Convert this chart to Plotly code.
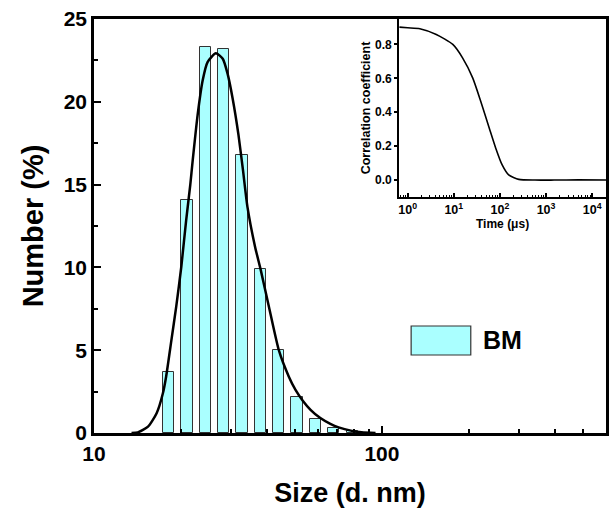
import numpy as np
import plotly.graph_objects as go

# ---------------- data ----------------
bin_sizes = [18.17, 21.04, 24.36, 28.21, 32.67, 37.84, 43.82, 50.75, 58.77, 68.06, 78.82]
number_pct = [3.7, 14.1, 23.3, 23.2, 16.8, 9.9, 5.0, 2.2, 0.85, 0.3, 0.14]

fit_sizes = [13.5, 14.2, 15.4, 16.5, 17.35, 17.8, 18.55, 19.3, 20.1, 20.9, 21.6, 22.0, 22.9,
             23.85, 24.8, 26.5, 28.0, 29.1, 30.3, 31.75, 32.9, 34.1, 36.25, 37.9, 40.5, 43.9,
             47.5, 50.1, 53.1, 56.5, 61.1, 66.2, 70.7, 78.6, 85.0, 95.0]
fit_values = [0.0, 0.04, 0.38, 1.19, 2.4, 3.4, 5.55, 7.63, 10.04, 12.86, 15.0, 16.4, 19.2,
              21.3, 22.4, 22.93, 22.6, 21.7, 20.2, 18.0, 15.9, 13.67, 11.25, 9.88, 7.63, 4.97,
              3.4, 2.6, 1.95, 1.4, 0.9, 0.55, 0.34, 0.13, 0.04, 0.0]

corr_time = [0.66, 1.0, 1.84, 4.18, 9.53, 15.5, 25.7, 38.5, 58.9, 81.3, 112, 155, 257, 575,
             1500, 5000, 20000]
corr_coef = [0.902, 0.898, 0.893, 0.859, 0.80, 0.721, 0.603, 0.464, 0.306, 0.188, 0.089,
             0.03, 0.004, 0.0, 0.0, 0.001, 0.0]

x_major = [10, 100]
x_minor = [20, 30, 40, 50, 60, 70, 80, 90, 200, 300, 400, 500]
inset_x_ticks = [1, 10, 100, 1000, 10000]
inset_x_text = ["10<sup>0</sup>", "10<sup>1</sup>", "10<sup>2</sup>", "10<sup>3</sup>", "10<sup>4</sup>"]

# ---------------- figure ----------------
FONT = "Liberation Sans, Arial, sans-serif"
s = np.array(bin_sizes)
k = 10 ** 0.0196
offsets = s / k - s
widths = s * k - s / k

fig = go.Figure()
fig.add_trace(go.Bar(
    x=bin_sizes, y=number_pct, offset=offsets, width=widths,
    marker=dict(color="#aaffff", line=dict(color="#333333", width=1)),
    name="BM", showlegend=False, xaxis="x", yaxis="y"))
fig.add_trace(go.Scatter(
    x=fit_sizes, y=fit_values, mode="lines",
    line=dict(color="black", width=2.5, shape="spline", smoothing=0.6),
    showlegend=False, xaxis="x", yaxis="y"))
fig.add_trace(go.Scatter(
    x=corr_time, y=corr_coef, mode="lines",
    line=dict(color="black", width=1.6, shape="spline", smoothing=0.6),
    showlegend=False, xaxis="x2", yaxis="y2"))

fig.update_layout(
    width=613, height=523,
    margin=dict(l=94, r=4, t=19, b=90),
    paper_bgcolor="white", plot_bgcolor="white",
    font=dict(family=FONT, color="black"),
    bargap=0,
    xaxis=dict(
        type="log", range=[1, np.log10(600)], domain=[0, 1],
        tickmode="array", tickvals=x_major, ticktext=["10", "100"],
        ticks="inside", ticklen=7, tickwidth=2, tickcolor="black",
        showline=True, linecolor="black", linewidth=2.5, mirror=True,
        showgrid=False, zeroline=False,
        tickfont=dict(size=21, family=FONT, weight="bold"),
        minor=dict(tickmode="array", tickvals=x_minor, ticks="inside", ticklen=4,
                   tickwidth=1.5, tickcolor="black", showgrid=False),
        title=dict(text="Size (d. nm)", font=dict(size=27, family=FONT, weight="bold"), standoff=20),
    ),
    yaxis=dict(
        range=[0, 25], domain=[0, 1], dtick=5,
        ticks="inside", ticklen=7, tickwidth=2, tickcolor="black",
        showline=True, linecolor="black", linewidth=2.5, mirror=True,
        showgrid=False, zeroline=False,
        tickfont=dict(size=21, family=FONT, weight="bold"),
        minor=dict(dtick=2.5, ticks="inside", ticklen=4, tickwidth=1.5, tickcolor="black", showgrid=False),
        title=dict(text="Number (%)", font=dict(size=29, family=FONT, weight="bold"), standoff=12),
    ),
    xaxis2=dict(
        type="log", range=[-0.184, 4.3], domain=[0.596, 1], anchor="y2",
        tickmode="array", tickvals=inset_x_ticks, ticktext=inset_x_text,
        ticks="inside", ticklen=4, tickwidth=1.5, tickcolor="black",
        showline=True, linecolor="black", linewidth=2, mirror=True,
        showgrid=False, zeroline=False,
        tickfont=dict(size=12.5, family=FONT, weight="bold"),
        minor=dict(dtick="D1", ticks="inside", ticklen=2, tickwidth=1, tickcolor="black", showgrid=False),
        title=dict(text="Time (μs)", font=dict(size=12, family=FONT, weight="bold"), standoff=3),
    ),
    yaxis2=dict(
        range=[-0.1, 0.95], domain=[0.57, 1], anchor="x2",
        tickvals=[0, 0.2, 0.4, 0.6, 0.8],
        ticktext=["0.0", "0.2", "0.4", "0.6", "0.8"],
        ticks="outside", ticklen=3, tickwidth=1.5, tickcolor="black",
        showline=True, linecolor="black", linewidth=2, mirror=True,
        showgrid=False, zeroline=False,
        tickfont=dict(size=12, family=FONT, weight="bold"),
        title=dict(text="Correlation coefficient", font=dict(size=12.5, family=FONT, weight="bold"), standoff=2),
    ),
    shapes=[dict(type="rect", xref="paper", yref="paper",
                 x0=0.6194, x1=0.7359, y0=0.1884, y1=0.2585,
                 fillcolor="#aaffff", line=dict(color="#333333", width=1.2))],
    annotations=[dict(text="BM", xref="paper", yref="paper", x=0.7553, y=0.2235,
                      xanchor="left", yanchor="middle", showarrow=False,
                      font=dict(size=25, family=FONT, weight="bold"))],
)

fig.write_html("out.html")
